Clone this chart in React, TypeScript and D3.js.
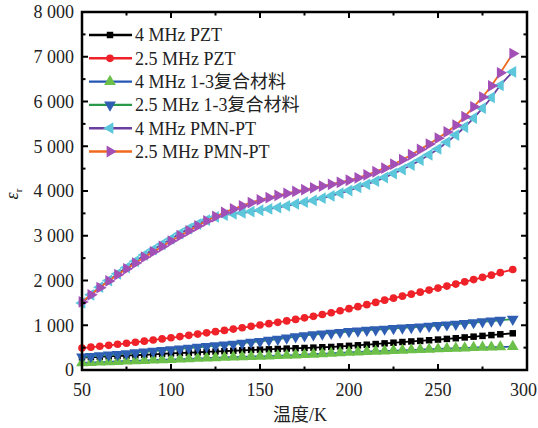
import React from "react";
import * as d3 from "d3";

const temps = [50,55,60,65,70,75,80,85,90,95,100,105,110,115,120,125,130,135,140,145,150,155,160,165,170,175,180,185,190,195,200,205,210,215,220,225,230,235,240,245,250,255,260,265,270,275,280,285,292];

const pzt4 = [280,288,295,305,315,322,330,340,350,360,370,378,385,395,405,412,420,430,440,448,455,462,470,478,485,492,500,508,515,528,540,552,565,580,595,610,625,638,650,665,680,695,710,728,745,762,780,798,820];
const pzt25 = [490,510,530,552,575,597,620,645,670,695,720,747,775,802,830,857,885,915,945,975,1005,1035,1065,1097,1130,1165,1200,1240,1280,1325,1370,1415,1460,1510,1560,1605,1650,1695,1740,1785,1830,1875,1920,1970,2020,2070,2120,2175,2245];
const comp4 = [160,168,175,182,190,198,205,212,220,228,235,242,250,258,265,272,280,288,295,300,305,312,320,325,332,342,352,362,372,383,395,402,410,418,425,432,440,448,455,462,470,478,485,492,500,505,510,515,522];
const comp25 = [290,305,320,335,350,368,385,402,420,438,455,472,490,508,525,542,560,580,600,620,640,665,690,718,745,768,790,808,825,843,860,875,890,902,915,928,940,952,965,980,995,1010,1025,1042,1060,1078,1095,1112,1135];
const pmn4 = [1500,1680,1850,2000,2150,2290,2430,2570,2690,2810,2930,3050,3160,3260,3350,3420,3460,3490,3510,3540,3570,3600,3630,3670,3710,3750,3790,3840,3890,3950,4010,4080,4150,4220,4300,4390,4480,4580,4690,4810,4940,5090,5250,5430,5630,5850,6090,6360,6660];
const pmn25 = [1520,1680,1840,1990,2130,2260,2390,2520,2640,2760,2880,3000,3110,3220,3330,3430,3520,3600,3670,3740,3800,3850,3900,3945,3990,4030,4070,4110,4150,4195,4240,4295,4360,4430,4510,4600,4700,4810,4930,5050,5180,5320,5470,5660,5880,6100,6350,6640,7070];

const seriesNames = ["4 MHz PZT","2.5 MHz PZT","4 MHz 1-3复合材料","2.5 MHz 1-3复合材料","4 MHz PMN-PT","2.5 MHz PMN-PT"];
const seriesValues = [pzt4, pzt25, comp4, comp25, pmn4, pmn25];
const lineColors = ["#000000","#ee2228","#2456b4","#2a9a48","#6a3fa0","#ef6a1c"];
const markerColors = ["#000000","#ee2228","#6cc04a","#2f5fb2","#5cc6da","#a24fb6"];
const markerKinds = ["square","circle","up","down","left","right"];

const xTicks = [50,100,150,200,250,300];
const xMinor = [75,125,175,225,275];
const yTicks = [0,1000,2000,3000,4000,5000,6000,7000,8000];
const yTickLabels = ["0","1 000","2 000","3 000","4 000","5 000","6 000","7 000","8 000"];
const yMinor = [500,1500,2500,3500,4500,5500,6500,7500];

const L = 82, R = 527, T = 12, B = 370;
const xs = d3.scaleLinear().domain([50, 300]).range([L, R]);
const ys = d3.scaleLinear().domain([0, 8000]).range([B, T]);

function Marker({ kind, x, y, color }: { kind: string; x: number; y: number; color: string }) {
  let type: any = d3.symbolSquare;
  let size = 42;
  let rot = 0;
  if (kind === "circle") { type = d3.symbolCircle; size = 46; }
  if (kind === "up") { type = d3.symbolTriangle; size = 60; }
  if (kind === "down") { type = d3.symbolTriangle; size = 60; rot = 180; }
  if (kind === "left") { type = d3.symbolTriangle; size = 60; rot = -90; }
  if (kind === "right") { type = d3.symbolTriangle; size = 60; rot = 90; }
  const p = d3.symbol().type(type).size(size)() as string;
  return <path d={p} transform={`translate(${x},${y}) rotate(${rot})`} fill={color} />;
}

export default function App() {
  const line = d3.line<number>().x((_, i) => xs(temps[i])).y((d) => ys(d)).curve(d3.curveMonotoneX);
  const font = "'Liberation Serif', 'Times New Roman', 'Noto Sans CJK SC', serif";
  return (
    <svg width={538} height={428} style={{ position: "absolute", left: 0, top: 0, background: "#fff" }} fontFamily={font}>
      {seriesValues.map((vals, si) => (
        <g key={si}>
          <path d={line(vals) as string} fill="none" stroke={lineColors[si]} strokeWidth={1.8} />
          {vals.map((v, i) => (
            <Marker key={i} kind={markerKinds[si]} x={xs(temps[i])} y={ys(v)} color={markerColors[si]} />
          ))}
        </g>
      ))}
      <rect x={L} y={T} width={R - L} height={B - T} fill="none" stroke="#000" strokeWidth={2.5} />
      {xTicks.map((t, i) => (
        <g key={"xt" + t}>
          <line x1={xs(t)} x2={xs(t)} y1={B} y2={B - 6} stroke="#000" strokeWidth={2} />
          <line x1={xs(t)} x2={xs(t)} y1={T} y2={T + 6} stroke="#000" strokeWidth={2} />
          <text x={i === xTicks.length - 1 ? 537 : xs(t)} y={396} textAnchor={i === xTicks.length - 1 ? "end" : "middle"} fontSize={18} fill="#222">{t}</text>
        </g>
      ))}
      {xMinor.map((t) => (
        <g key={"xm" + t}>
          <line x1={xs(t)} x2={xs(t)} y1={B} y2={B - 3.5} stroke="#000" strokeWidth={2} />
          <line x1={xs(t)} x2={xs(t)} y1={T} y2={T + 3.5} stroke="#000" strokeWidth={2} />
        </g>
      ))}
      {yTicks.map((t, i) => (
        <g key={"yt" + t}>
          <line x1={L} x2={L + 6} y1={ys(t)} y2={ys(t)} stroke="#000" strokeWidth={2} />
          <line x1={R} x2={R - 6} y1={ys(t)} y2={ys(t)} stroke="#000" strokeWidth={2} />
          <text x={74} y={ys(t)} dy="0.35em" textAnchor="end" fontSize={18} fill="#222">{yTickLabels[i]}</text>
        </g>
      ))}
      {yMinor.map((t) => (
        <g key={"ym" + t}>
          <line x1={L} x2={L + 3.5} y1={ys(t)} y2={ys(t)} stroke="#000" strokeWidth={2} />
          <line x1={R} x2={R - 3.5} y1={ys(t)} y2={ys(t)} stroke="#000" strokeWidth={2} />
        </g>
      ))}
      <text x={300} y={421} textAnchor="middle" fontSize={18} fill="#222">温度/K</text>
      <text transform="translate(18,194) rotate(-90)" textAnchor="middle" fontSize={18} fontStyle="italic" fill="#222">
        ε<tspan fontSize={11} dy={4} fontStyle="normal">r</tspan>
      </text>
      {seriesNames.map((n, i) => {
        const y = 35 + i * 23.3;
        return (
          <g key={"lg" + i}>
            <line x1={89} x2={132} y1={y} y2={y} stroke={lineColors[i]} strokeWidth={2.4} />
            <Marker kind={markerKinds[i]} x={110} y={y} color={markerColors[i]} />
            <text x={135} y={y} dy="0.35em" fontSize={18} fill="#222">{n}</text>
          </g>
        );
      })}
    </svg>
  );
}
